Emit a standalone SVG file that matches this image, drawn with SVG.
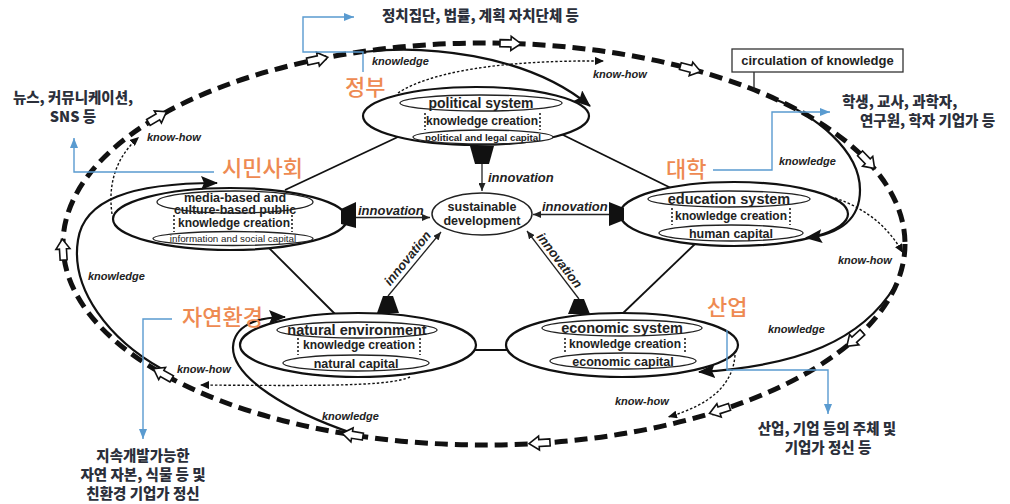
<svg xmlns="http://www.w3.org/2000/svg" xmlns:xlink="http://www.w3.org/1999/xlink" width="1010" height="504" viewBox="0 0 1010 504">
  <defs>
    <style>
      .dash { fill: none; stroke: #111; stroke-width: 5; stroke-dasharray: 13 7; }
      .node { fill: #fff; stroke: #111; stroke-width: 2.2; }
      .inner { fill: #fff; stroke: #222; stroke-width: 1.3; }
      .hex { stroke: #111; stroke-width: 1.8; fill: none; }
      .kn { fill: none; stroke: #111; stroke-width: 2.2; marker-end: url(#ahK); }
      .kh { fill: none; stroke: #111; stroke-width: 1.4; stroke-dasharray: 2.5 2; marker-end: url(#ahH); }
      .inn { stroke: #222; stroke-width: 1.3; fill: none; marker-end: url(#ahI); }
      .bl { fill: none; stroke: #5a9bd0; stroke-width: 1.4; marker-end: url(#ahB); }
      .br { stroke: #222; stroke-width: 1.6; stroke-dasharray: 2 2; }
      .trap { fill: #111; }
      .oa { fill: #fff; stroke: #111; stroke-width: 1.6; stroke-linejoin: miter; }
      .en { font-family: "Liberation Sans", Arial, sans-serif; fill: #222; text-anchor: middle; }
      .b { font-weight: bold; }
      .lbl { font-family: "Liberation Sans", Arial, sans-serif; font-style: italic; font-weight: bold; font-size: 11px; fill: #222; }
      .innt { font-family: "Liberation Sans", Arial, sans-serif; font-style: italic; font-weight: bold; font-size: 13px; fill: #222; }
      .or { font-family: "Noto Sans CJK KR", sans-serif; fill: #ee8a52; font-size: 22px; font-weight: 500; }
      .ko { font-family: "Noto Sans CJK KR", sans-serif; font-weight: 900; font-size: 14.5px; fill: #2b2f3a; }
    </style>
    <marker id="ahK" markerUnits="userSpaceOnUse" markerWidth="17" markerHeight="14" refX="16" refY="7" orient="auto">
      <path d="M0,0 L17,7 L0,14 L3,7 Z" fill="#111"/>
    </marker>
    <marker id="ahH" markerUnits="userSpaceOnUse" markerWidth="9" markerHeight="8" refX="9" refY="4" orient="auto">
      <path d="M0,0 L9,4 L0,8 Z" fill="#111"/>
    </marker>
    <marker id="ahI" markerUnits="userSpaceOnUse" markerWidth="8" markerHeight="7" refX="8" refY="3.5" orient="auto">
      <path d="M0,0 L8,3.5 L0,7 Z" fill="#222"/>
    </marker>
    <marker id="ahB" markerUnits="userSpaceOnUse" markerWidth="10" markerHeight="8" refX="10" refY="4" orient="auto">
      <path d="M0,0 L10,4 L0,8 Z" fill="#5a9bd0"/>
    </marker>
    <path id="oarrow" class="oa" d="M-10,-3.5 H1 V-7 L11,0 L1,7 V3.5 H-10 Z"/>
  </defs>

  <rect width="1010" height="504" fill="#fff"/>

  <!-- outer circulation loop -->
  <g id="circulation">
    <ellipse class="dash" cx="484" cy="244" rx="421" ry="201"/>
  </g>

  <!-- hexagon links between the five systems -->
  <g id="links">
    <line class="hex" x1="285" y1="190" x2="400" y2="136"/>
    <line class="hex" x1="555" y1="131" x2="675" y2="190"/>
    <line class="hex" x1="266" y1="245" x2="337" y2="316"/>
    <line class="hex" x1="695" y1="244" x2="620" y2="316"/>
    <line class="hex" x1="470" y1="350" x2="512" y2="350"/>
  </g>

  <!-- political system -->
  <g id="node-political">
    <ellipse class="node" cx="476" cy="116" rx="113" ry="29"/>
    <ellipse class="inner" cx="481" cy="103" rx="81" ry="8"/>
    <text class="en b" x="481" y="108" font-size="14">political system</text>
    <line class="br" x1="425" y1="113" x2="425" y2="130"/>
    <line class="br" x1="540" y1="113" x2="540" y2="130"/>
    <text class="en b" x="482" y="125" font-size="12">knowledge creation</text>
    <ellipse class="inner" cx="483" cy="137" rx="70" ry="7"/>
    <text class="en b" x="483" y="140.5" font-size="9.8">political and legal capital</text>
    <polygon class="trap" points="470,146 494,146 489,164 475,164"/>
  </g>

  <!-- civil society -->
  <g id="node-civil">
    <ellipse class="node" cx="230" cy="219" rx="117" ry="31"/>
    <ellipse class="inner" cx="235" cy="202" rx="78" ry="11"/>
    <text class="en b" x="235" y="202" font-size="12.5">media-based and</text>
    <text class="en b" x="235" y="214" font-size="12.5">culture-based public</text>
    <line class="br" x1="174" y1="215" x2="174" y2="232"/>
    <line class="br" x1="292" y1="215" x2="292" y2="232"/>
    <text class="en b" x="234" y="227" font-size="12">knowledge creation</text>
    <ellipse class="inner" cx="233" cy="238.5" rx="80" ry="7"/>
    <text class="en" x="233" y="242" font-size="9.8">information and social capital</text>
    <polygon class="trap" points="341,209 356,202 356,228 341,224"/>
  </g>

  <!-- education system -->
  <g id="node-education">
    <ellipse class="node" cx="734" cy="214" rx="114" ry="32"/>
    <ellipse class="inner" cx="729" cy="199" rx="81" ry="8"/>
    <text class="en b" x="729" y="204" font-size="14.5">education system</text>
    <line class="br" x1="672" y1="208" x2="672" y2="225"/>
    <line class="br" x1="790" y1="208" x2="790" y2="225"/>
    <text class="en b" x="731" y="220" font-size="12">knowledge creation</text>
    <ellipse class="inner" cx="731" cy="233" rx="72" ry="8"/>
    <text class="en b" x="731" y="237.5" font-size="12.5">human capital</text>
    <polygon class="trap" points="609,202 624,208 624,220 609,226"/>
  </g>

  <!-- economic system -->
  <g id="node-economic">
    <ellipse class="node" cx="622" cy="345" rx="116" ry="32"/>
    <ellipse class="inner" cx="622" cy="328" rx="80" ry="8"/>
    <text class="en b" x="622" y="333" font-size="14.5">economic system</text>
    <line class="br" x1="565" y1="338" x2="565" y2="354"/>
    <line class="br" x1="685" y1="338" x2="685" y2="354"/>
    <text class="en b" x="625" y="348" font-size="12">knowledge creation</text>
    <ellipse class="inner" cx="623" cy="361" rx="73" ry="8"/>
    <text class="en b" x="623" y="366" font-size="12.5">economic capital</text>
    <polygon class="trap" points="574,299 584,299 590,314 568,314"/>
  </g>

  <!-- natural environment -->
  <g id="node-natural">
    <ellipse class="node" cx="358" cy="345" rx="118" ry="32"/>
    <ellipse class="inner" cx="357" cy="330" rx="80" ry="8"/>
    <text class="en b" x="357" y="335" font-size="14.5">natural environment</text>
    <line class="br" x1="298" y1="338" x2="298" y2="355"/>
    <line class="br" x1="420" y1="338" x2="420" y2="355"/>
    <text class="en b" x="359" y="349" font-size="12">knowledge creation</text>
    <ellipse class="inner" cx="356" cy="363" rx="73" ry="8"/>
    <text class="en b" x="356" y="368" font-size="12.5">natural capital</text>
    <polygon class="trap" points="383,296 393,296 399,313 377,313"/>
  </g>

  <!-- sustainable development -->
  <g id="node-sustainable">
    <ellipse cx="482" cy="214" rx="50" ry="21" fill="#fff" stroke="#222" stroke-width="1.5"/>
    <text class="en" x="482" y="211" font-size="12.5" font-weight="600">sustainable</text>
    <text class="en" x="482" y="225" font-size="12.5" font-weight="600">development</text>
  </g>

  <g id="connectors">
    <!-- innovation flows -->
    <line class="inn" x1="482" y1="164" x2="482" y2="191"/>
    <line class="inn" x1="356" y1="217.5" x2="430" y2="217.5"/>
    <line class="inn" x1="609" y1="214.5" x2="533" y2="214.5"/>
    <line class="inn" x1="388" y1="296" x2="441" y2="232"/>
    <line class="inn" x1="579" y1="299" x2="527" y2="231"/>

    <!-- knowledge flows -->
    <path class="kn" d="M363,52 C420,45 525,52 590,106"/>
    <path class="kn" d="M772,98 C815,115 860,150 860,190 C860,220 840,234 806,238"/>
    <path class="kn" d="M895,286 C862,340 800,366 699,372"/>
    <path class="kn" d="M352,433 C290,412 232,378 233,347 C234,326 256,317 285,317"/>
    <path class="kn" d="M162,369 C110,340 70,290 78,240 C84,200 130,183 217,183"/>

    <!-- know-how flows -->
    <path class="kh" d="M398,93 C430,72 500,60 604,61"/>
    <path class="kh" d="M112,214 C108,185 115,158 139,137"/>
    <path class="kh" d="M835,198 C870,210 890,230 903,253"/>
    <path class="kh" d="M735,355 C733,385 710,405 668,417"/>
    <path class="kh" d="M410,377 C390,386 330,386 200,385"/>

    <!-- direction marks on the loop -->
    <use xlink:href="#oarrow" transform="translate(510,43.4) rotate(1.7)"/>
    <use xlink:href="#oarrow" transform="translate(317,59.5) rotate(-11.7)"/>
    <use xlink:href="#oarrow" transform="translate(157,117.4) rotate(-30.5)"/>
    <use xlink:href="#oarrow" transform="translate(690,68.7) rotate(15)"/>
    <use xlink:href="#oarrow" transform="translate(867,160.6) rotate(46.3)"/>
    <use xlink:href="#oarrow" transform="translate(855,339) rotate(138.3)"/>
    <use xlink:href="#oarrow" transform="translate(720,410) rotate(162)"/>
    <use xlink:href="#oarrow" transform="translate(540,443) rotate(176.3)"/>
    <use xlink:href="#oarrow" transform="translate(353,435) rotate(188.9)"/>
    <use xlink:href="#oarrow" transform="translate(163,374) rotate(209.4)"/>
    <use xlink:href="#oarrow" transform="translate(63,250) rotate(-93.6)"/>

    <!-- callout leaders -->
    <path class="bl" d="M363,72 V52 H303 V17 H354"/>
    <path class="bl" d="M214,172 H74 V138"/>
    <path class="bl" d="M713,170 H772 V112 H830"/>
    <path class="bl" d="M727,330 V370 H828 V414"/>
    <path class="bl" d="M172,319 H143 V439"/>
    <line x1="754" y1="72" x2="754" y2="90" stroke="#222" stroke-width="1.3"/>
  </g>

  <!-- flow labels -->
  <g id="flow-labels">
    <text class="innt" x="488" y="181.5">innovation</text>
    <text class="innt" x="358" y="214.5">innovation</text>
    <text class="innt" x="542" y="210.5">innovation</text>
    <text class="innt" text-anchor="middle" transform="translate(411,261) rotate(-51)">innovation</text>
    <text class="innt" text-anchor="middle" transform="translate(556,263) rotate(52.6)">innovation</text>

    <text class="lbl" x="372" y="65">knowledge</text>
    <text class="lbl" x="593" y="78">know-how</text>
    <text class="lbl" x="147" y="141">know-how</text>
    <text class="lbl" x="88" y="280">knowledge</text>
    <text class="lbl" x="779" y="165">knowledge</text>
    <text class="lbl" x="838" y="264">know-how</text>
    <text class="lbl" x="768" y="333">knowledge</text>
    <text class="lbl" x="615" y="405">know-how</text>
    <text class="lbl" x="177" y="373">know-how</text>
    <text class="lbl" x="322" y="420">knowledge</text>
  </g>

  <!-- circulation legend -->
  <g id="legend">
    <rect x="732" y="49" width="171" height="23" fill="#fff" stroke="#333" stroke-width="1.3"/>
    <text class="en b" x="817.5" y="65" font-size="13">circulation of knowledge</text>
  </g>

  <!-- actor names -->
  <g id="actors">
    <text class="or" x="345" y="95" font-size="20">정부</text>
    <text class="or" x="222" y="176">시민사회</text>
    <text class="or" x="666" y="177">대학</text>
    <text class="or" x="707" y="315">산업</text>
    <text class="or" x="182" y="325">자연환경</text>
  </g>

  <!-- actor descriptions -->
  <g id="descriptions">
    <text class="ko" x="382" y="21" font-size="15">정치집단, 법률, 계획 자치단체 등</text>
    <text class="ko" x="73" y="103" text-anchor="middle">뉴스, 커뮤니케이션,</text>
    <text class="ko" x="73" y="122" text-anchor="middle">SNS 등</text>
    <text class="ko" x="842" y="107">학생, 교사, 과학자,</text>
    <text class="ko" x="860" y="126">연구원, 학자 기업가 등</text>
    <text class="ko" x="827" y="434" text-anchor="middle">산업, 기업 등의 주체 및</text>
    <text class="ko" x="828" y="453" text-anchor="middle">기업가 정신 등</text>
    <text class="ko" x="143" y="461" text-anchor="middle">지속개발가능한</text>
    <text class="ko" x="143" y="480" text-anchor="middle">자연 자본, 식물 등 및</text>
    <text class="ko" x="143" y="499" text-anchor="middle">친환경 기업가 정신</text>
  </g>
</svg>
